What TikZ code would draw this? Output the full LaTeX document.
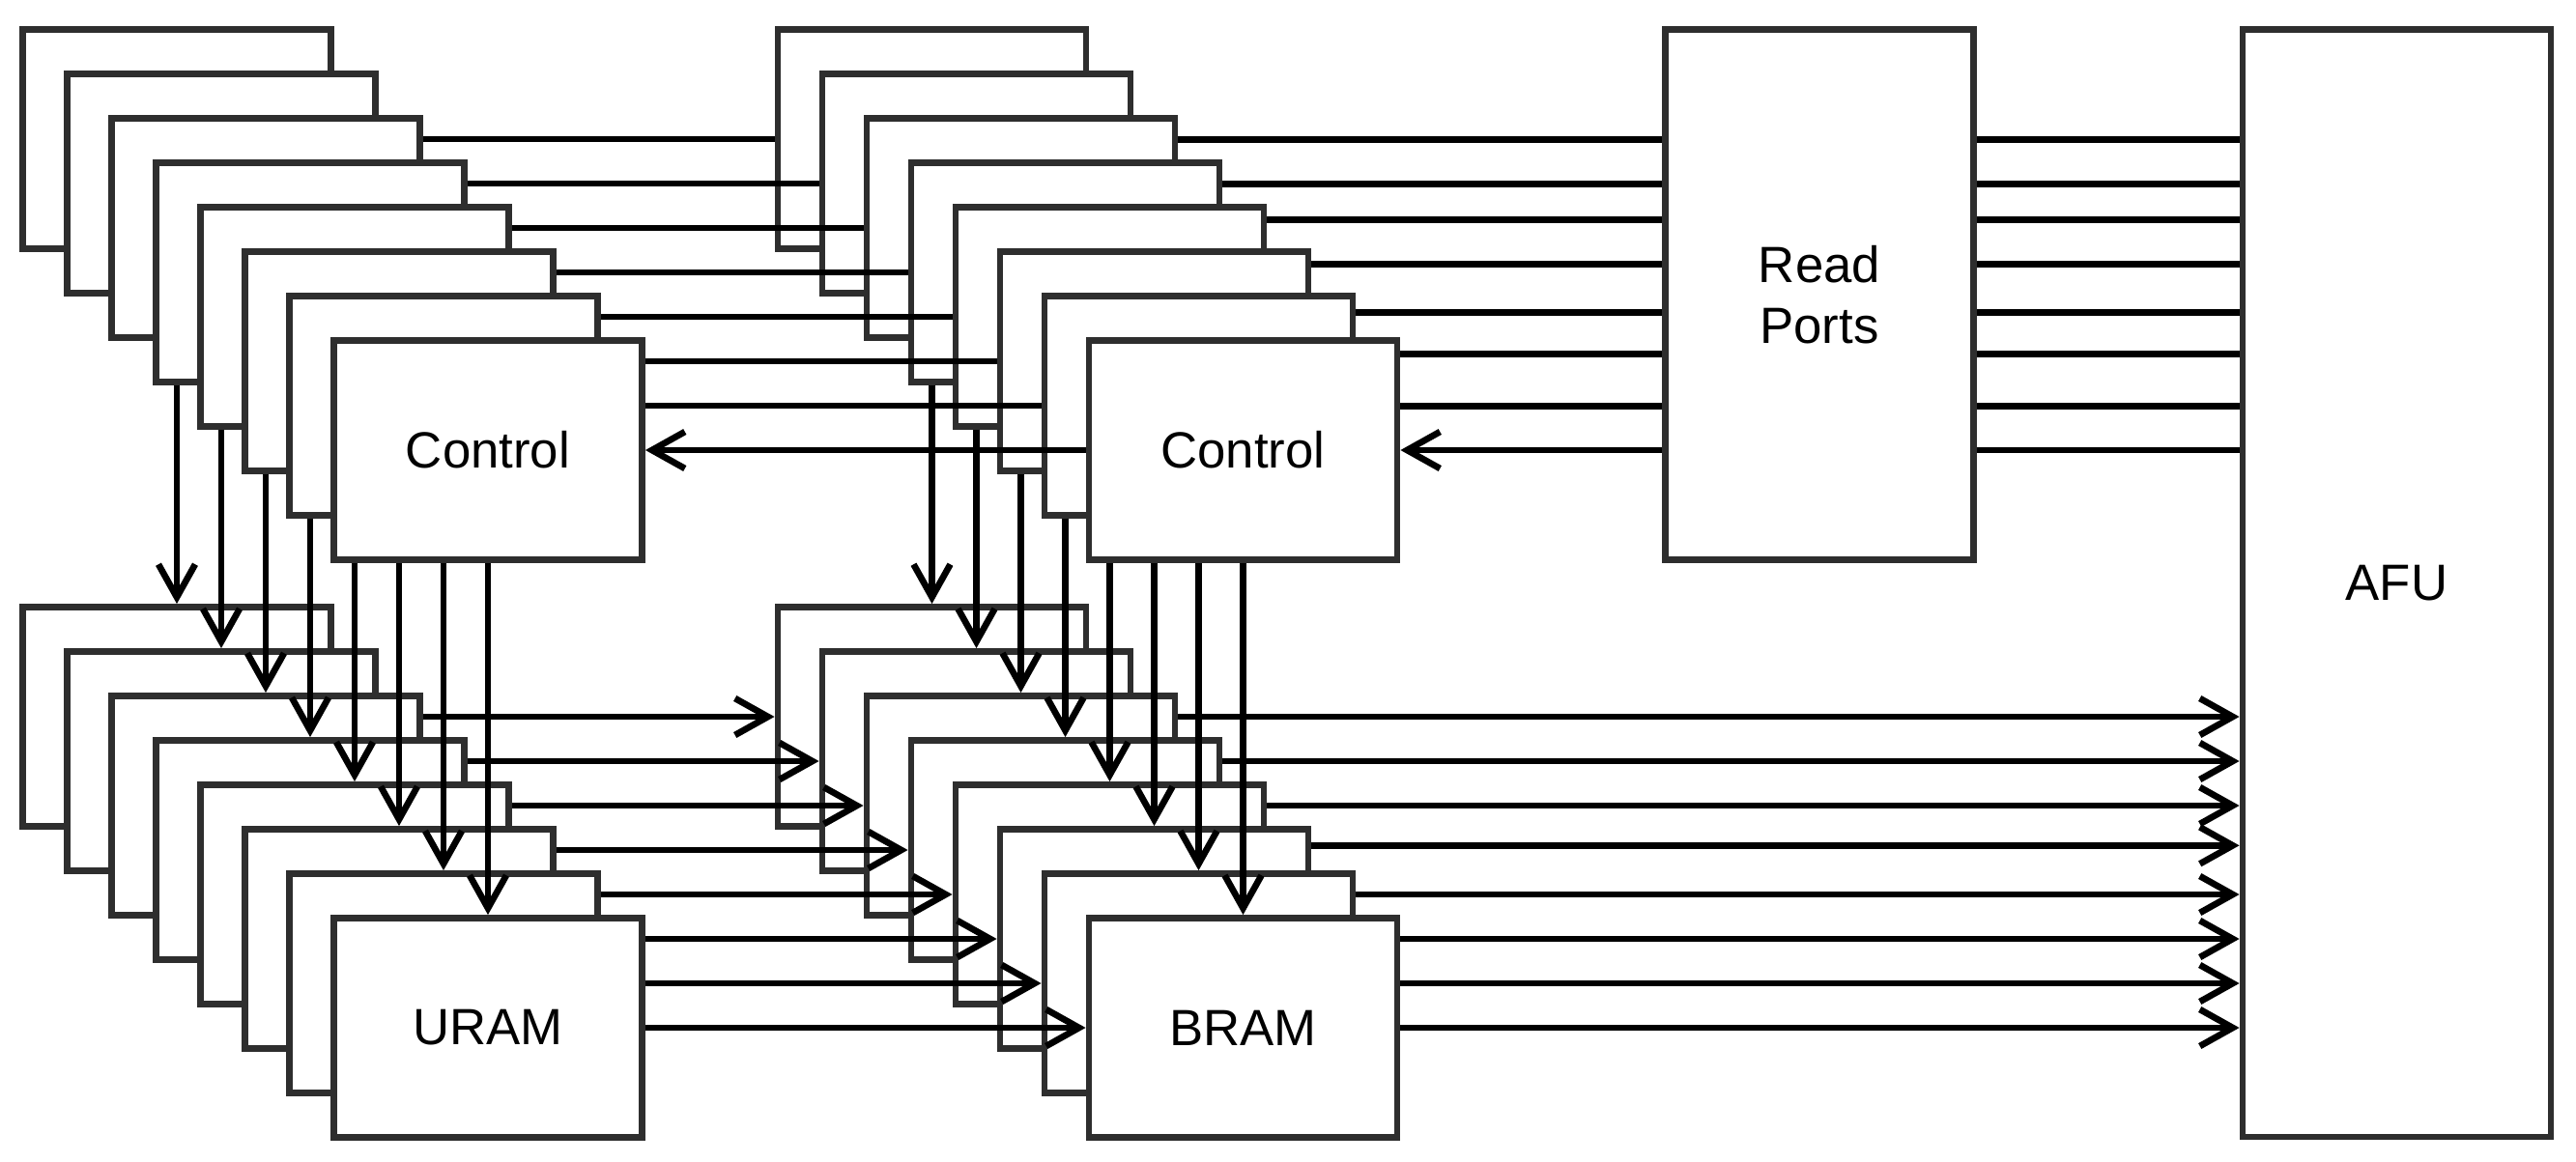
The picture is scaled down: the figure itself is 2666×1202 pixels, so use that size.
\documentclass[tikz,border=0pt]{standalone}
\usepackage{fontspec}
\setmainfont{Liberation Sans}
\usetikzlibrary{arrows.meta}
\pgfdeclarelayer{back}
\pgfdeclarelayer{upper}
\pgfdeclarelayer{top}
\pgfsetlayers{back,main,upper,top}

\begin{document}
\begin{tikzpicture}[
        x=0.01cm, y=-0.01cm,
        block/.style={rectangle, draw=black!82, line width=1.9pt, fill=white, minimum width=3.19cm, minimum height=2.27cm, font=\fontsize{15}{18}\selectfont, align=center},
        wire/.style={line width=1.9pt},
        arrow/.style={wire, -{Straight Barb[length=0.34cm, width=0.38cm]}}
    ]

        \useasboundingbox (0,0) rectangle (2666,1202);

        % rows of the wires that are not on box centres
        \foreach \k/\y in {0/144.3, 1/190.3, 2/227.3, 3/273.3, 4/323.7, 5/366.7, 6/420.3, 7/466}
            \coordinate (ry\k) at (0,\y);
        \foreach \k/\y in {0/742, 1/788, 2/834, 3/875.3, 4/926, 5/972, 6/1018, 7/1064}
            \coordinate (by\k) at (0,\y);

        \node (rp) [block, minimum height=5.49cm] at (1883,305) {Read\\Ports};
        \node (afu) [block, minimum height=11.46cm] at (2480.5,603.5) {AFU};

        % BRAM stack
        \foreach \k in {0,...,6}
            \node (bram\k) [block] at ({964.5+46*\k},{742+46*\k}) {};
        \node (bram7) [block] at (1286.5,1064) {BRAM};

        % URAM stack and second control stack
        \begin{pgfonlayer}{upper}
            \foreach \k in {0,...,6} {
                \node (uram\k) [block] at ({183+46*\k},{742+46*\k}) {};
                \node (mctl\k) [block] at ({964.5+46*\k},{144+46*\k}) {};
            }
            \node (uram7) [block] at (505,1064) {URAM};
            \node (mctl7) [block] at (1286.5,466) {Control};
        \end{pgfonlayer}

        % first control stack
        \begin{pgfonlayer}{top}
            \foreach \k in {0,...,6}
                \node (ctl\k) [block] at ({183+46*\k},{144+46*\k}) {};
            \node (ctl7) [block] at (505,466) {Control};
        \end{pgfonlayer}

        \foreach \k in {0,...,7} {
            \draw[arrow] (uram\k.east) -- (bram\k.west);
            \draw[arrow] (mctl\k.south) -- (bram\k.north);
        }

        \begin{pgfonlayer}{upper}
            \foreach \k in {0,...,7} {
                \draw[arrow] (ctl\k.south) -- (uram\k.north);
                \draw[arrow] (mctl\k.west) -- (ctl\k.east);
            }
        \end{pgfonlayer}

        \begin{pgfonlayer}{back}
            \foreach \k in {0,...,7} {
                \draw[wire] (afu.west |- ry\k) -- (rp.east |- ry\k);
                \draw[arrow] (rp.west |- ry\k) -- (mctl\k.east |- ry\k);
                \draw[arrow] (bram\k.east |- by\k) -- (afu.west |- by\k);
            }
        \end{pgfonlayer}

    \end{tikzpicture}
\end{document}
